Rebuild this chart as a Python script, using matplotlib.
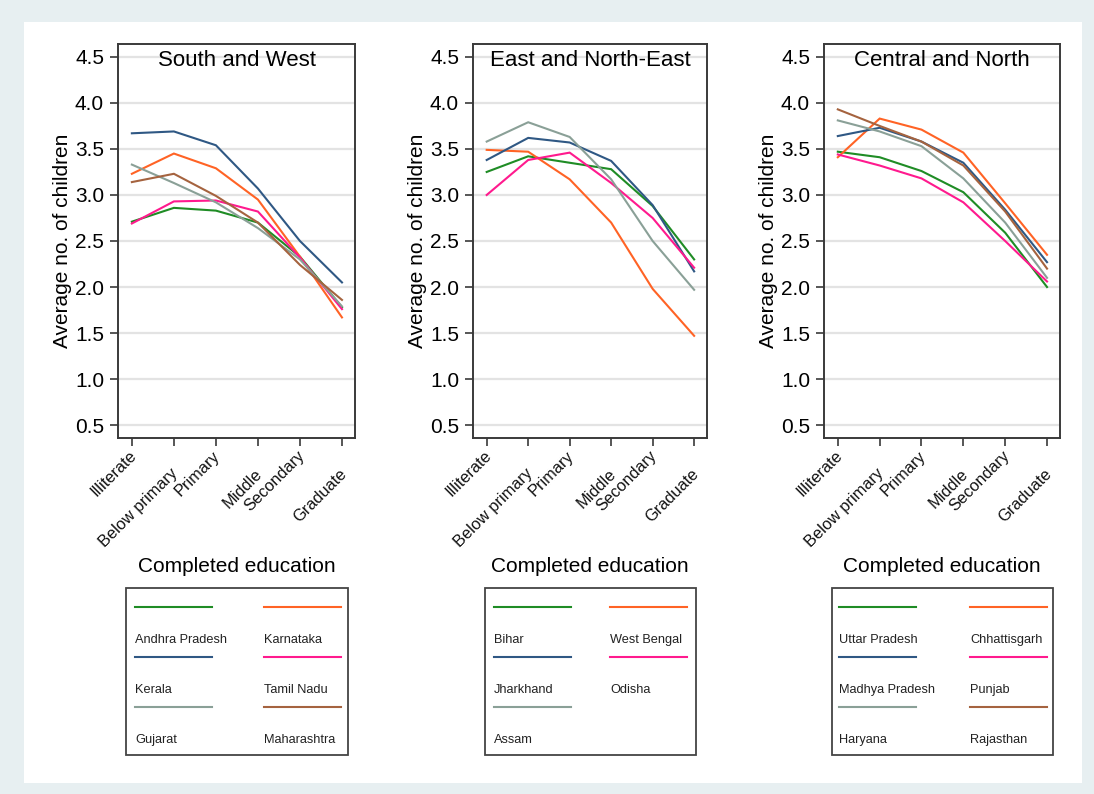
import matplotlib
matplotlib.use("Agg")
import matplotlib.pyplot as plt
from matplotlib.lines import Line2D
from matplotlib.patches import Rectangle
from matplotlib.transforms import ScaledTranslation

plt.rcParams['font.family'] = ['Liberation Sans', 'DejaVu Sans']

education = ["Illiterate", "Below primary", "Primary", "Middle", "Secondary", "Graduate"]
yticks = [0.5, 1.0, 1.5, 2.0, 2.5, 3.0, 3.5, 4.0, 4.5]

# South and West
sw_states = ["Andhra Pradesh", "Karnataka", "Kerala", "Tamil Nadu", "Gujarat", "Maharashtra"]
andhra_pradesh = [2.71, 2.86, 2.83, 2.70, 2.33, 1.78]
karnataka = [3.23, 3.45, 3.29, 2.95, 2.33, 1.67]
kerala = [3.67, 3.69, 3.54, 3.07, 2.50, 2.05]
tamil_nadu = [2.69, 2.93, 2.94, 2.82, 2.32, 1.76]
gujarat = [3.33, 3.13, 2.92, 2.64, 2.30, 1.79]
maharashtra = [3.14, 3.23, 2.99, 2.70, 2.24, 1.86]

# East and North-East
ene_states = ["Bihar", "West Bengal", "Jharkhand", "Odisha", "Assam"]
bihar = [3.25, 3.42, 3.35, 3.28, 2.88, 2.30]
west_bengal = [3.49, 3.47, 3.17, 2.70, 1.98, 1.47]
jharkhand = [3.38, 3.62, 3.57, 3.37, 2.89, 2.17]
odisha = [3.00, 3.38, 3.46, 3.13, 2.75, 2.21]
assam = [3.58, 3.79, 3.63, 3.17, 2.50, 1.97]

# Central and North
cn_states = ["Uttar Pradesh", "Chhattisgarh", "Madhya Pradesh", "Punjab", "Haryana", "Rajasthan"]
uttar_pradesh = [3.47, 3.41, 3.26, 3.03, 2.59, 2.00]
chhattisgarh = [3.41, 3.83, 3.71, 3.46, 2.91, 2.35]
madhya_pradesh = [3.64, 3.73, 3.58, 3.35, 2.84, 2.27]
punjab = [3.44, 3.32, 3.18, 2.92, 2.50, 2.06]
haryana = [3.81, 3.69, 3.53, 3.18, 2.70, 2.10]
rajasthan = [3.93, 3.75, 3.58, 3.32, 2.82, 2.20]

titles = ["South and West", "East and North-East", "Central and North"]

colors = ["#1f8c25", "#ff6325", "#2f5884", "#ff1a8e", "#8aa097", "#a5633f"]

panels = [
    (sw_states, [andhra_pradesh, karnataka, kerala, tamil_nadu, gujarat, maharashtra]),
    (ene_states, [bihar, west_bengal, jharkhand, odisha, assam]),
    (cn_states, [uttar_pradesh, chhattisgarh, madhya_pradesh, punjab, haryana, rajasthan]),
]

W, H = 1094, 794
fig = plt.figure(figsize=(W / 100, H / 100), dpi=100)
fig.patch.set_facecolor("#e7eff1")
fig.patches.append(Rectangle((24 / W, 1 - 783 / H), (1082 - 24) / W, (783 - 22) / H,
                             transform=fig.transFigure, facecolor="white",
                             edgecolor="none", zorder=-5))

ax_lr = [(118, 355), (473, 707), (824, 1060)]
ax_top, ax_bot = 44, 438
box_specs = [  # left, right, col1 inset, col2 offset
    (126, 348, 9, 129),
    (485, 696, 9, 116),
    (832, 1053, 7, 131),
]
box_top, box_bot = 588, 755

for p, ((states, series), (l, r)) in enumerate(zip(panels, ax_lr)):
    ax = fig.add_axes([l / W, 1 - ax_bot / H, (r - l) / W, (ax_bot - ax_top) / H])
    ax.set_facecolor("none")
    x = list(range(len(education)))
    for i, vals in enumerate(series):
        ax.plot(x, vals, color=colors[i], lw=1.5, solid_joinstyle="miter", zorder=3)
    ax.set_ylim(0.36, 4.64)
    ax.set_xlim(-0.33, 5.31)
    ax.set_yticks(yticks)
    ax.set_yticklabels([f"{v:.1f}" for v in yticks], fontsize=15)
    ax.yaxis.grid(True, color="#e3e3e3", lw=1.6, zorder=0)
    ax.set_axisbelow(True)
    for s in ax.spines.values():
        s.set_color("#3a3a3a")
        s.set_linewidth(1.4)
    ax.tick_params(axis="both", direction="out", length=6, width=1.2, color="#3a3a3a")
    ax.tick_params(axis="y", pad=4)
    ax.set_xticks(x)
    ax.set_xticklabels(education, rotation=45, ha="right", va="center",
                       rotation_mode="anchor", fontsize=11.8, color="#111111")
    ax.tick_params(axis="x", pad=5)
    for i, lab in enumerate(ax.get_xticklabels()):
        dy = -0.18 if i % 2 == 1 else 0.0
        lab.set_transform(lab.get_transform() +
                          ScaledTranslation(0.02, dy, fig.dpi_scale_trans))
    ax.set_ylabel("Average no. of children", fontsize=15, labelpad=2)
    ax.text(0.5, 0.958, titles[p], transform=ax.transAxes, ha="center", va="center",
            fontsize=16, color="black")

    cx = (l + r) / 2
    fig.text(cx / W, 1 - 566 / H, "Completed education", ha="center", va="center",
             fontsize=15)

    bl, br, c1, c2 = box_specs[p]
    fig.patches.append(Rectangle((bl / W, 1 - box_bot / H), (br - bl) / W,
                                 (box_bot - box_top) / H, transform=fig.transFigure,
                                 facecolor="white", edgecolor="#444444", lw=1.3,
                                 zorder=2))
    for i, name in enumerate(states):
        row, col = divmod(i, 2)
        x0 = bl + c1 + col * c2
        yl = 607 + row * 50
        fig.add_artist(Line2D([x0 / W, (x0 + 77) / W], [1 - yl / H, 1 - yl / H],
                              transform=fig.transFigure, color=colors[i], lw=1.5,
                              zorder=3))
        fig.text(x0 / W, 1 - (yl + 33) / H, name, ha="left", va="center",
                 fontsize=9.2, color="#222222", zorder=3)

fig.savefig("out.png", dpi=100, facecolor=fig.get_facecolor())
